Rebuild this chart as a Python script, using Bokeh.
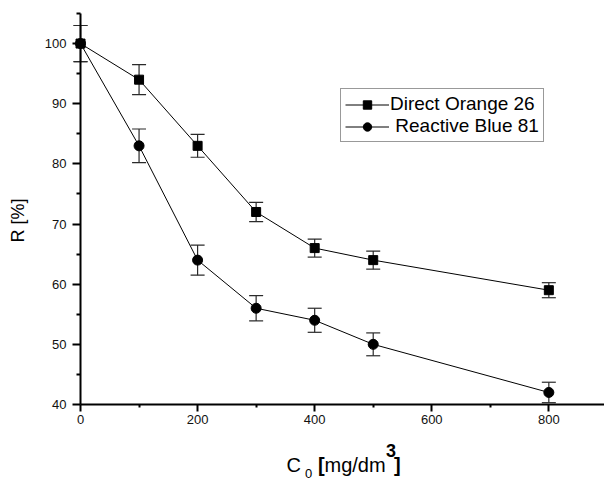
import math
from bokeh.plotting import figure
from bokeh.models import (ColumnDataSource, Whisker, TeeHead, FixedTicker, Legend,
                          LegendItem, Label, Range1d)
from bokeh.embed import file_html
from bokeh.resources import INLINE

# ---- data ----
conc = [0, 100, 200, 300, 400, 500, 800]
do26 = [100, 94, 83, 72, 66, 64, 59]
do26_err = [3, 2.5, 1.9, 1.6, 1.5, 1.5, 1.25]
rb81 = [100, 83, 64, 56, 54, 50, 42]
rb81_err = [3, 2.8, 2.5, 2.1, 2.0, 1.9, 1.7]
x_ticks = [0, 200, 400, 600, 800]
x_minor = [100, 300, 500, 700]
y_ticks = [40, 50, 60, 70, 80, 90, 100]
y_minor = [45, 55, 65, 75, 85, 95, 105]
series_names = ["Direct Orange 26", "\u00a0Reactive Blue 81"]

FONT = "Liberation Sans"

# frame covers the whole canvas; axes are pinned at x=0 / y=40
p = figure(width=604, height=479, output_backend="svg", toolbar_location=None,
           x_range=Range1d(-136.7, 895.1), y_range=Range1d(27.53, 107.16),
           min_border_left=0, min_border_right=0, min_border_top=0,
           min_border_bottom=0)
p.outline_line_color = None
p.xgrid.visible = False
p.ygrid.visible = False
p.background_fill_color = "white"
p.border_fill_color = "white"

p.xaxis.fixed_location = 40
p.yaxis.fixed_location = 0
p.xaxis.bounds = (0, 895.1)
p.yaxis.bounds = (40, 105)

for ax in (p.xaxis[0], p.yaxis[0]):
    ax.axis_line_width = 2
    ax.axis_line_color = "black"
    ax.major_tick_line_width = 2
    ax.minor_tick_line_width = 2
    ax.major_tick_line_color = "black"
    ax.minor_tick_line_color = "black"
    ax.major_tick_in = 0
    ax.minor_tick_in = 0
    ax.major_label_text_font = FONT
    ax.major_label_text_font_size = "13px"
    ax.major_label_text_color = "#111111"

p.xaxis.ticker = FixedTicker(ticks=x_ticks, minor_ticks=x_minor)
p.yaxis.ticker = FixedTicker(ticks=y_ticks, minor_ticks=y_minor)
p.xaxis.major_tick_out = 7
p.xaxis.minor_tick_out = 3
p.yaxis.major_tick_out = 8
p.yaxis.minor_tick_out = 4
p.xaxis.major_label_standoff = 4
p.yaxis.major_label_standoff = 6

src1 = ColumnDataSource(dict(x=conc, y=do26,
                             lo=[v - e for v, e in zip(do26, do26_err)],
                             hi=[v + e for v, e in zip(do26, do26_err)]))
src2 = ColumnDataSource(dict(x=conc, y=rb81,
                             lo=[v - e for v, e in zip(rb81, rb81_err)],
                             hi=[v + e for v, e in zip(rb81, rb81_err)]))

for src in (src1, src2):
    w = Whisker(base="x", lower="lo", upper="hi", source=src,
                line_color="#2a2a2a", line_width=1.2,
                upper_head=TeeHead(size=14, line_color="#2a2a2a", line_width=1.2),
                lower_head=TeeHead(size=14, line_color="#2a2a2a", line_width=1.2))
    p.add_layout(w)

l1 = p.line("x", "y", source=src1, line_color="black", line_width=1)
m1 = p.scatter("x", "y", source=src1, marker="square", size=9,
               fill_color="black", line_color="black")
l2 = p.line("x", "y", source=src2, line_color="black", line_width=1)
m2 = p.scatter("x", "y", source=src2, marker="circle", size=10,
               fill_color="black", line_color="black")

legend = Legend(items=[LegendItem(label=series_names[0], renderers=[l1, m1]),
                       LegendItem(label=series_names[1], renderers=[l2, m2])],
                location=(340, 337), orientation="vertical")
legend.label_text_font = FONT
legend.label_text_font_size = "19px"
legend.label_text_color = "black"
legend.glyph_width = 44
legend.glyph_height = 21
legend.label_height = 22
legend.label_standoff = 1
legend.spacing = 0
legend.padding = 4
legend.margin = 0
legend.border_line_color = "#333333"
legend.border_line_width = 1
legend.background_fill_alpha = 1
p.add_layout(legend)

# axis titles drawn as labels (sub/superscripts)
def lab(x, y, text, size, bold=False, angle=0, align="left", baseline="alphabetic"):
    p.add_layout(Label(x=x, y=y, text=text, text_font=FONT, text_font_size=size,
                       text_font_style="bold" if bold else "normal",
                       text_color="black", angle=angle, text_align=align,
                       text_baseline=baseline))

lab(-106, 70.6, "R [%]", "18px", angle=math.pi / 2, align="center", baseline="middle")
lab(351.9, 29.87, "C", "20px")
lab(383.5, 28.45, "0", "13px")
lab(405.7, 29.87, "[", "20px", bold=True)
lab(416.8, 29.87, "mg/dm", "20px")
lab(522.0, 32.34, "3", "18px", bold=True)
lab(535.5, 29.87, "]", "20px", bold=True)

open("out.html", "w").write(file_html(p, INLINE))
